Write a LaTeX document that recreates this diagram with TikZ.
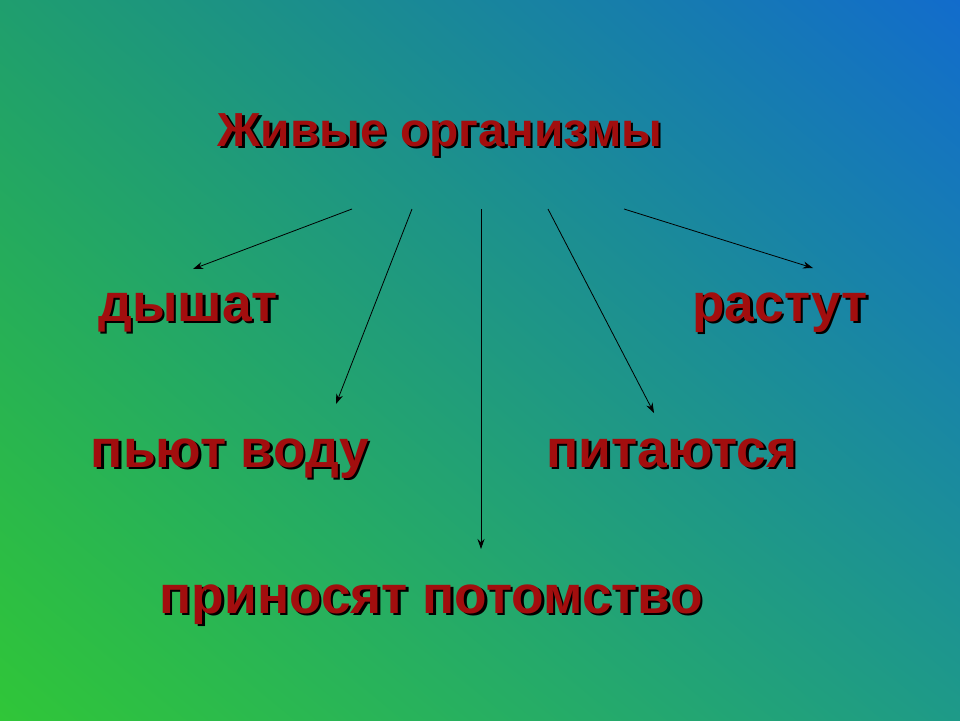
\documentclass[tikz,border=0pt]{standalone}
\usepackage{fontspec}
\setmainfont{Liberation Sans}
\usetikzlibrary{arrows.meta,shadings}
\definecolor{txtred}{RGB}{162,14,14}
\definecolor{cBL}{RGB}{48,198,56}
\definecolor{cTL}{RGB}{31,158,110}
\definecolor{cTR}{RGB}{18,108,204}
\definecolor{cBR}{RGB}{30,154,136}
\newcommand{\shtext}[1]{\leavevmode\rlap{\kern2.4pt\raisebox{-2.4pt}{\color{black}#1}}#1}
\tikzset{
  lbl/.style={anchor=base, inner sep=0pt, font=\bfseries\fontsize{#1}{#1}\selectfont, text=txtred},
  arr/.style={draw=black, line width=0.8pt, -{Stealth[length=10pt,width=7pt]}}
}
\begin{document}
\begin{tikzpicture}[x=1pt,y=-1pt]
\useasboundingbox (0,0) rectangle (960,720);
\shade[upper left=cTL, upper right=cTR, lower left=cBL, lower right=cBR] (0,0) rectangle (960,720);
\node[lbl=47.8] (title) at (440,146) {\shtext{Живые организмы}};
\node[lbl=53.3] (dyshat) at (188,321) {\shtext{дышат}};
\node[lbl=53.3] (rastut) at (780,321) {\shtext{растут}};
\node[lbl=53.3] (pyut) at (230,467) {\shtext{пьют воду}};
\node[lbl=53.3] (pitayutsya) at (672,467) {\shtext{питаются}};
\node[lbl=53.3] (prinosyat) at (431,613) {\shtext{приносят потомство}};
\coordinate (s1) at (352,209);
\coordinate (s2) at (412,209);
\coordinate (s3) at (481,209);
\coordinate (s4) at (548,209);
\coordinate (s5) at (624,209);
\coordinate (e1) at (193,269);
\coordinate (e2) at (336,404);
\coordinate (e3) at (481,549);
\coordinate (e4) at (654,413);
\coordinate (e5) at (813,268);
\draw[arr] (s1) -- (e1);
\draw[arr] (s2) -- (e2);
\draw[arr] (s3) -- (e3);
\draw[arr] (s4) -- (e4);
\draw[arr] (s5) -- (e5);
\end{tikzpicture}
\end{document}
